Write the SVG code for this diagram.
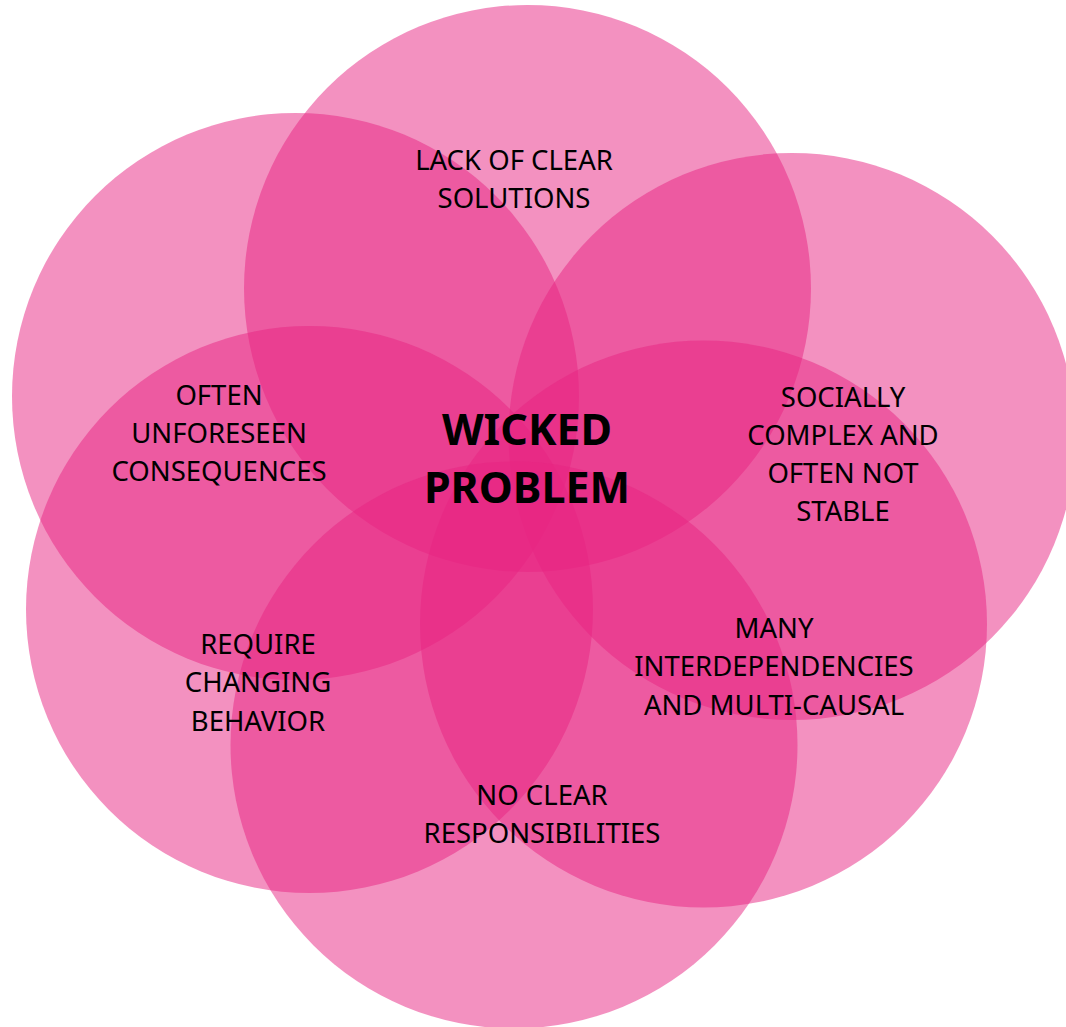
<svg xmlns="http://www.w3.org/2000/svg" width="1066" height="1027" viewBox="0 0 1066 1027">
<style>
.c{fill:#e72381;fill-opacity:0.5}
.t{font-family:"Source Sans Pro","Noto Sans","Liberation Sans",sans-serif;font-size:27.5px;fill:#000;text-anchor:middle}
.b{font-family:"Source Sans Pro","Noto Sans","Liberation Sans",sans-serif;font-size:43px;font-weight:bold;fill:#000;text-anchor:middle}
</style>
<rect width="1066" height="1027" fill="#fff"/>
<g id="circles">
<circle id="c-top" class="c" cx="527.5" cy="288.5" r="283.5"/>
<circle id="c-topleft" class="c" cx="295.5" cy="396.5" r="283.5"/>
<circle id="c-topright" class="c" cx="792" cy="436.5" r="283.5"/>
<circle id="c-botleft" class="c" cx="309.5" cy="609.5" r="283.5"/>
<circle id="c-botright" class="c" cx="703.5" cy="624" r="283.5"/>
<circle id="c-bottom" class="c" cx="514" cy="745" r="283.5"/>
</g>
<g id="connectors"/>
<g id="center"><text class="b" x="527" y="445">WICKED</text><text class="b" x="527" y="503">PROBLEM</text></g>
<g id="n-top"><text class="t" x="514" y="170">LACK OF CLEAR</text><text class="t" x="514" y="208">SOLUTIONS</text></g>
<g id="n-topleft"><text class="t" x="219" y="405">OFTEN</text><text class="t" x="219" y="443">UNFORESEEN</text><text class="t" x="219" y="481">CONSEQUENCES</text></g>
<g id="n-topright"><text class="t" x="843" y="407">SOCIALLY</text><text class="t" x="843" y="445">COMPLEX AND</text><text class="t" x="843" y="483">OFTEN NOT</text><text class="t" x="843" y="521">STABLE</text></g>
<g id="n-botleft"><text class="t" x="258" y="654">REQUIRE</text><text class="t" x="258" y="692">CHANGING</text><text class="t" x="258" y="731">BEHAVIOR</text></g>
<g id="n-botright"><text class="t" x="774" y="638">MANY</text><text class="t" x="774" y="676">INTERDEPENDENCIES</text><text class="t" x="774" y="715">AND MULTI-CAUSAL</text></g>
<g id="n-bottom"><text class="t" x="542" y="805">NO CLEAR</text><text class="t" x="542" y="843">RESPONSIBILITIES</text></g>
</svg>
